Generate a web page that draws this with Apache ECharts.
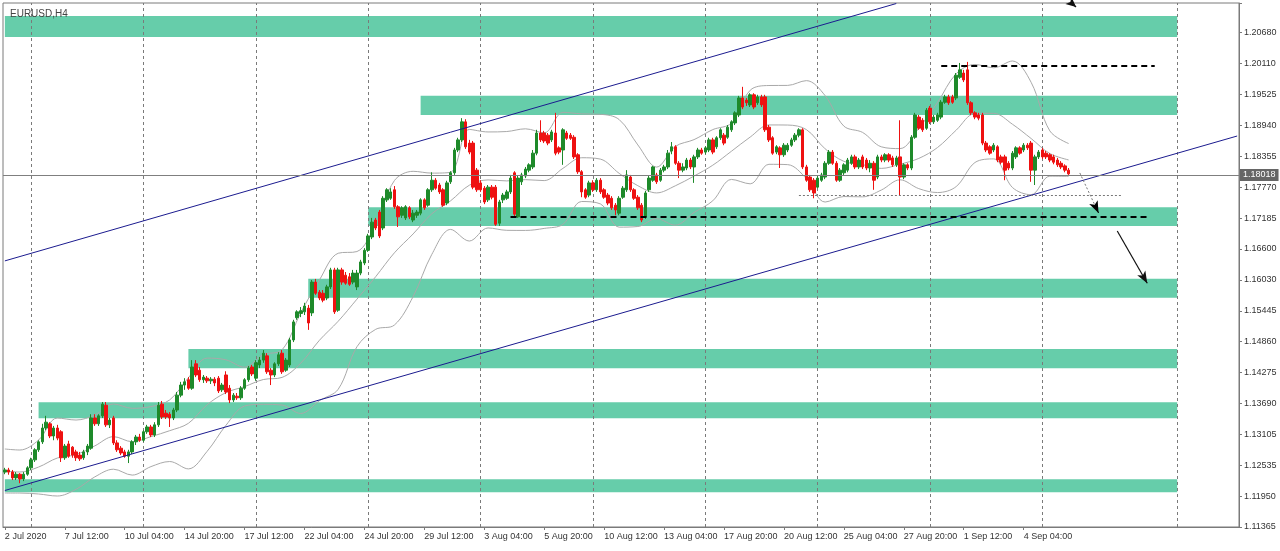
<!DOCTYPE html>
<html><head><meta charset="utf-8">
<script src="https://cdn.jsdelivr.net/npm/echarts@6/dist/echarts.min.js"></script>
<style>html,body{margin:0;padding:0;background:#fff}#c{width:1280px;height:551px}</style>
</head><body><div id="c"></div>
<script>
const chartTitle = 'EURUSD,H4';
const slotCount = 330;
const xTickStep = 16;
const xTickLabels = ['2 Jul 2020','7 Jul 12:00','10 Jul 04:00','14 Jul 20:00','17 Jul 12:00','22 Jul 04:00','24 Jul 20:00','29 Jul 12:00','3 Aug 04:00','5 Aug 20:00','10 Aug 12:00','13 Aug 04:00','17 Aug 20:00','20 Aug 12:00','25 Aug 04:00','27 Aug 20:00','1 Sep 12:00','4 Sep 04:00'];
const yTickLabels = ['1.11365','1.11950','1.12535','1.13105','1.13690','1.14275','1.14860','1.15445','1.16030','1.16600','1.17185','1.17770','1.18355','1.18940','1.19525','1.20110','1.20680'];
const yMin = 1.11365, yMax = 1.21240, yStep = 0.005821875;

const open = [1.1240,1.1244,1.1240,1.1229,1.1236,1.1227,1.1236,1.1248,1.1263,1.1282,
1.1297,1.1323,1.1331,1.1308,1.1323,1.1316,1.1267,1.1293,1.1287,1.1278,
1.1272,1.1267,1.1278,1.1285,1.1342,1.1331,1.1346,1.1366,1.1329,1.1342,
1.1295,1.1285,1.1278,1.1270,1.1278,1.1297,1.1306,1.1300,1.1316,1.1325,
1.1310,1.1329,1.1368,1.1351,1.1349,1.1342,1.1357,1.1385,1.1404,1.1414,
1.1398,1.1444,1.1432,1.1414,1.1417,1.1412,1.1415,1.1417,1.1395,1.1423,
1.1398,1.1376,1.1383,1.1380,1.1398,1.1414,1.1438,1.1417,1.1442,1.1451,
1.1459,1.1432,1.1423,1.1444,1.1464,1.1432,1.1442,1.1489,1.1531,1.1539,
1.1542,1.1549,1.1540,1.1598,1.1579,1.1577,1.1568,1.1589,1.1621,1.1545,
1.1621,1.1611,1.1608,1.1598,1.1589,1.1615,1.1634,1.1658,1.1683,1.1715,
1.1730,1.1700,1.1753,1.1756,1.1772,1.1740,1.1724,1.1719,1.1738,1.1715,
1.1724,1.1728,1.1753,1.1743,1.1772,1.1790,1.1781,1.1772,1.1747,1.1787,
1.1804,1.1847,1.1866,1.1900,1.1860,1.1860,1.1809,1.1785,1.1775,1.1753,
1.1777,1.1777,1.1709,1.1753,1.1756,1.1768,1.1804,1.1721,1.1787,1.1798,
1.1809,1.1815,1.1841,1.1879,1.1879,1.1875,1.1866,1.1879,1.1851,1.1847,
1.1879,1.1875,1.1871,1.1838,1.1806,1.1772,1.1762,1.1785,1.1772,1.1790,
1.1772,1.1762,1.1756,1.1743,1.1728,1.1758,1.1772,1.1796,1.1772,1.1758,
1.1743,1.1721,1.1772,1.1790,1.1800,1.1790,1.1809,1.1815,1.1845,1.1853,
1.1822,1.1809,1.1813,1.1828,1.1815,1.1834,1.1847,1.1843,1.1847,1.1866,
1.1853,1.1870,1.1875,1.1871,1.1885,1.1898,1.1913,1.1945,1.1941,1.1932,
1.1951,1.1936,1.1947,1.1947,1.1890,1.1870,1.1843,1.1851,1.1838,1.1847,
1.1856,1.1866,1.1875,1.1885,1.1815,1.1796,1.1790,1.1777,1.1790,1.1796,
1.1822,1.1843,1.1822,1.1790,1.1804,1.1809,1.1822,1.1834,1.1815,1.1834,
1.1828,1.1813,1.1822,1.1796,1.1834,1.1828,1.1838,1.1832,1.1819,1.1834,
1.1796,1.1819,1.1813,1.1871,1.1909,1.1903,1.1888,1.1926,1.1900,1.1903,
1.1909,1.1937,1.1947,1.1947,1.1945,1.1984,1.1992,1.1998,1.1936,1.1917,
1.1913,1.1913,1.1860,1.1853,1.1847,1.1853,1.1834,1.1834,1.1822,1.1813,
1.1834,1.1851,1.1847,1.1856,1.1860,1.1809,1.1834,1.1847,1.1841,1.1838,
1.1834,1.1828,1.1822,1.1817,1.1809];
const close = [1.1244,1.1240,1.1229,1.1236,1.1227,1.1236,1.1248,1.1263,1.1282,1.1297,
1.1323,1.1334,1.1308,1.1323,1.1304,1.1267,1.1289,1.1270,1.1272,1.1267,
1.1265,1.1278,1.1289,1.1342,1.1331,1.1346,1.1368,1.1329,1.1338,1.1295,
1.1282,1.1276,1.1270,1.1278,1.1297,1.1306,1.1300,1.1316,1.1325,1.1310,
1.1329,1.1366,1.1344,1.1344,1.1342,1.1357,1.1385,1.1404,1.1410,1.1398,
1.1438,1.1423,1.1414,1.1419,1.1412,1.1415,1.1408,1.1393,1.1404,1.1391,
1.1376,1.1385,1.1380,1.1398,1.1414,1.1436,1.1425,1.1446,1.1451,1.1464,
1.1429,1.1423,1.1444,1.1461,1.1429,1.1451,1.1489,1.1523,1.1542,1.1544,
1.1553,1.1521,1.1598,1.1577,1.1568,1.1564,1.1589,1.1621,1.1542,1.1621,
1.1598,1.1596,1.1594,1.1615,1.1615,1.1636,1.1658,1.1685,1.1711,1.1700,
1.1685,1.1756,1.1772,1.1768,1.1740,1.1721,1.1738,1.1740,1.1721,1.1728,
1.1730,1.1753,1.1738,1.1772,1.1790,1.1775,1.1768,1.1743,1.1785,1.1804,
1.1847,1.1866,1.1900,1.1853,1.1843,1.1777,1.1772,1.1772,1.1749,1.1777,
1.1758,1.1707,1.1749,1.1762,1.1768,1.1794,1.1726,1.1794,1.1800,1.1811,
1.1819,1.1841,1.1879,1.1866,1.1864,1.1860,1.1881,1.1841,1.1843,1.1885,
1.1869,1.1869,1.1834,1.1806,1.1768,1.1758,1.1785,1.1772,1.1790,1.1768,
1.1758,1.1747,1.1738,1.1734,1.1756,1.1775,1.1800,1.1772,1.1756,1.1738,
1.1715,1.1766,1.1794,1.1815,1.1787,1.1809,1.1815,1.1841,1.1853,1.1822,
1.1809,1.1815,1.1828,1.1815,1.1834,1.1847,1.1841,1.1851,1.1866,1.1843,
1.1870,1.1885,1.1860,1.1890,1.1900,1.1917,1.1945,1.1928,1.1936,1.1951,
1.1928,1.1947,1.1932,1.1885,1.1866,1.1841,1.1853,1.1838,1.1856,1.1856,
1.1866,1.1875,1.1885,1.1815,1.1790,1.1772,1.1766,1.1794,1.1800,1.1822,
1.1843,1.1822,1.1790,1.1809,1.1819,1.1828,1.1834,1.1815,1.1828,1.1815,
1.1813,1.1822,1.1790,1.1834,1.1828,1.1838,1.1828,1.1819,1.1832,1.1796,
1.1819,1.1813,1.1871,1.1913,1.1888,1.1885,1.1922,1.1900,1.1909,1.1913,
1.1937,1.1947,1.1936,1.1937,1.1988,1.1998,1.1979,1.1936,1.1917,1.1909,
1.1907,1.1860,1.1847,1.1841,1.1856,1.1828,1.1824,1.1809,1.1813,1.1841,
1.1851,1.1841,1.1856,1.1851,1.1809,1.1834,1.1843,1.1834,1.1834,1.1828,
1.1824,1.1819,1.1815,1.1809,1.1802];
const low = [1.1236,1.1235,1.1225,1.1225,1.1219,1.1223,1.1233,1.1244,1.1259,1.1278,
1.1293,1.1319,1.1304,1.1300,1.1300,1.1259,1.1263,1.1267,1.1267,1.1261,
1.1261,1.1263,1.1272,1.1282,1.1327,1.1327,1.1342,1.1325,1.1323,1.1291,
1.1278,1.1272,1.1267,1.1257,1.1274,1.1291,1.1297,1.1297,1.1312,1.1306,
1.1306,1.1325,1.1340,1.1340,1.1325,1.1338,1.1353,1.1381,1.1395,1.1395,
1.1395,1.1419,1.1410,1.1408,1.1408,1.1406,1.1402,1.1389,1.1391,1.1387,
1.1370,1.1372,1.1376,1.1376,1.1395,1.1410,1.1421,1.1412,1.1436,1.1446,
1.1425,1.1404,1.1419,1.1440,1.1425,1.1429,1.1438,1.1485,1.1527,1.1532,
1.1536,1.1508,1.1534,1.1574,1.1564,1.1560,1.1564,1.1585,1.1538,1.1542,
1.1593,1.1593,1.1591,1.1594,1.1583,1.1611,1.1630,1.1655,1.1679,1.1696,
1.1681,1.1696,1.1749,1.1753,1.1736,1.1702,1.1719,1.1715,1.1717,1.1711,
1.1719,1.1724,1.1734,1.1740,1.1768,1.1772,1.1764,1.1740,1.1743,1.1783,
1.1800,1.1843,1.1862,1.1849,1.1839,1.1773,1.1768,1.1768,1.1745,1.1749,
1.1754,1.1704,1.1704,1.1747,1.1753,1.1764,1.1721,1.1719,1.1781,1.1794,
1.1805,1.1811,1.1837,1.1862,1.1860,1.1856,1.1862,1.1837,1.1839,1.1819,
1.1866,1.1866,1.1830,1.1802,1.1758,1.1755,1.1758,1.1768,1.1768,1.1764,
1.1755,1.1743,1.1734,1.1724,1.1724,1.1755,1.1768,1.1768,1.1753,1.1734,
1.1711,1.1717,1.1768,1.1787,1.1783,1.1787,1.1805,1.1811,1.1839,1.1819,
1.1794,1.1805,1.1809,1.1811,1.1785,1.1830,1.1838,1.1839,1.1843,1.1839,
1.1849,1.1866,1.1856,1.1868,1.1881,1.1894,1.1909,1.1924,1.1930,1.1928,
1.1924,1.1932,1.1928,1.1881,1.1862,1.1838,1.1839,1.1813,1.1834,1.1843,
1.1853,1.1862,1.1871,1.1811,1.1787,1.1768,1.1756,1.1775,1.1787,1.1792,
1.1819,1.1819,1.1787,1.1787,1.1800,1.1805,1.1819,1.1811,1.1811,1.1811,
1.1809,1.1805,1.1772,1.1792,1.1824,1.1824,1.1824,1.1815,1.1815,1.1762,
1.1792,1.1809,1.1809,1.1868,1.1885,1.1881,1.1885,1.1896,1.1896,1.1900,
1.1905,1.1934,1.1932,1.1934,1.1941,1.1981,1.1975,1.1932,1.1913,1.1905,
1.1903,1.1856,1.1843,1.1838,1.1843,1.1824,1.1820,1.1790,1.1809,1.1809,
1.1830,1.1838,1.1843,1.1847,1.1787,1.1781,1.1830,1.1830,1.1830,1.1824,
1.1820,1.1815,1.1811,1.1805,1.1800];
const high = [1.1248,1.1248,1.1244,1.1240,1.1238,1.1240,1.1251,1.1267,1.1285,1.1300,
1.1331,1.1346,1.1334,1.1327,1.1329,1.1319,1.1293,1.1299,1.1289,1.1282,
1.1278,1.1282,1.1293,1.1349,1.1349,1.1349,1.1372,1.1372,1.1342,1.1346,
1.1300,1.1289,1.1282,1.1282,1.1300,1.1310,1.1312,1.1319,1.1329,1.1329,
1.1334,1.1372,1.1374,1.1357,1.1353,1.1361,1.1391,1.1410,1.1417,1.1419,
1.1451,1.1451,1.1438,1.1423,1.1421,1.1419,1.1419,1.1421,1.1408,1.1430,
1.1404,1.1389,1.1389,1.1402,1.1417,1.1440,1.1442,1.1451,1.1457,1.1470,
1.1464,1.1436,1.1447,1.1466,1.1470,1.1455,1.1493,1.1527,1.1545,1.1551,
1.1559,1.1555,1.1602,1.1604,1.1583,1.1583,1.1593,1.1625,1.1625,1.1625,
1.1625,1.1617,1.1615,1.1621,1.1621,1.1640,1.1662,1.1689,1.1719,1.1719,
1.1734,1.1760,1.1775,1.1775,1.1779,1.1743,1.1741,1.1743,1.1741,1.1734,
1.1734,1.1756,1.1756,1.1775,1.1805,1.1794,1.1785,1.1775,1.1789,1.1807,
1.1851,1.1870,1.1907,1.1905,1.1866,1.1864,1.1813,1.1790,1.1779,1.1781,
1.1781,1.1781,1.1753,1.1766,1.1772,1.1800,1.1807,1.1798,1.1804,1.1815,
1.1822,1.1847,1.1885,1.1903,1.1883,1.1879,1.1885,1.1917,1.1854,1.1888,
1.1883,1.1879,1.1875,1.1841,1.1809,1.1775,1.1789,1.1790,1.1794,1.1794,
1.1775,1.1766,1.1760,1.1747,1.1760,1.1779,1.1809,1.1800,1.1775,1.1762,
1.1747,1.1770,1.1798,1.1817,1.1804,1.1813,1.1819,1.1847,1.1862,1.1856,
1.1826,1.1822,1.1832,1.1832,1.1838,1.1851,1.1851,1.1854,1.1870,1.1870,
1.1873,1.1888,1.1879,1.1894,1.1903,1.1920,1.1949,1.1966,1.1945,1.1954,
1.1954,1.1951,1.1951,1.1951,1.1894,1.1873,1.1856,1.1854,1.1860,1.1860,
1.1870,1.1879,1.1888,1.1888,1.1819,1.1800,1.1794,1.1798,1.1804,1.1826,
1.1847,1.1847,1.1826,1.1813,1.1822,1.1832,1.1838,1.1838,1.1832,1.1838,
1.1832,1.1828,1.1826,1.1838,1.1838,1.1841,1.1841,1.1836,1.1836,1.1903,
1.1822,1.1822,1.1875,1.1917,1.1913,1.1907,1.1926,1.1930,1.1913,1.1917,
1.1941,1.1951,1.1951,1.1951,1.1992,1.2011,1.1998,1.2013,1.1939,1.1920,
1.1917,1.1917,1.1864,1.1856,1.1860,1.1856,1.1838,1.1838,1.1826,1.1845,
1.1854,1.1854,1.1860,1.1860,1.1864,1.1838,1.1847,1.1851,1.1845,1.1841,
1.1838,1.1832,1.1826,1.1820,1.1813];

// Bollinger band lines read at every 5th bar
const bbIdx = [0,4,9,14,19,24,29,34,39,44,49,54,59,64,69,74,79,84,89,94,99,104,109,114,119,124,129,134,139,144,149,154,159,164,169,174,179,184,189,194,199,204,209,214,219,224,229,234,239,244,249,254,259,264,269,274,279,284];
const bbUpper = [1.12835,1.12816,1.13004,1.13419,1.13381,1.13477,1.13683,1.13602,1.13634,1.13760,
1.14178,1.14548,1.14516,1.14376,1.14612,1.14704,1.15403,1.16023,1.16524,1.16556,
1.17073,1.17893,1.18068,1.18034,1.18051,1.18857,1.18810,1.18818,1.18869,1.18793,
1.19180,1.19150,1.19142,1.19044,1.18565,1.18147,1.18537,1.18665,1.18854,1.18978,
1.19596,1.19685,1.19687,1.19777,1.19494,1.18920,1.18801,1.18530,1.18496,1.18880,
1.19364,1.19907,1.20081,1.20020,1.20147,1.19745,1.18829,1.18592];
const bbMid = [1.12420,1.12401,1.12495,1.12665,1.12729,1.12893,1.13068,1.12972,1.13068,1.13180,
1.13319,1.13669,1.13897,1.14011,1.14144,1.14184,1.14453,1.14885,1.15243,1.15659,
1.16082,1.16532,1.16888,1.17269,1.17512,1.17806,1.17906,1.17887,1.17911,1.17893,
1.18124,1.18324,1.18298,1.18030,1.17797,1.17661,1.17795,1.17979,1.18183,1.18447,
1.18714,1.18942,1.18940,1.18854,1.18492,1.18256,1.18194,1.18123,1.18202,1.18311,
1.18516,1.18844,1.19157,1.19161,1.18956,1.18686,1.18403,1.18283];
const bbLower = [1.12005,1.12005,1.11987,1.11949,1.12075,1.12309,1.12454,1.12343,1.12503,1.12599,
1.12460,1.12791,1.13279,1.13645,1.13677,1.13664,1.13504,1.13747,1.13961,1.14762,
1.15090,1.15171,1.15708,1.16504,1.16973,1.16754,1.17001,1.16956,1.16954,1.16992,
1.17069,1.17499,1.17454,1.17016,1.17028,1.17175,1.17052,1.17293,1.17512,1.17915,
1.17832,1.18200,1.18194,1.17930,1.17489,1.17593,1.17587,1.17715,1.17908,1.17742,
1.17668,1.17781,1.18234,1.18302,1.17764,1.17627,1.17977,1.17974];

const weekGridIdx = [7,37,67,97,127,157,187,217,247,277,313];
const zoneFrom = [0,111,97,81,49,9,0];
const zoneTo = [313,313,313,313,313,313,313];
const zoneTop = [1.20995,1.19493,1.17390,1.16044,1.14719,1.13715,1.12264];
const zoneBottom = [1.20599,1.19129,1.17037,1.15686,1.14356,1.13413,1.12019];
const channelUpper = [[0,1.16380],[238,1.21230]];
const channelLower = [[0,1.12053],[329,1.18733]];
const dashedFrom = [250,135], dashedTo = [307,305], dashedPrice = [1.20058,1.17207];
const dottedLevel = {from:212,to:298,price:1.17608};
const lastPrice = 1.18018;
const arrowDotted = [[287,1.18037],[292,1.17283]];
const arrowDottedHead = [[291,1.17433],[292,1.17283]];
const arrowSolid = [[297,1.16944],[305,1.15958]];
const arrowTop = [[285,1.21225],[286,1.21165]];

const FONT = 'Liberation Sans, Arial, sans-serif';
const candles = open.map((o,i)=>[o, close[i], low[i], high[i]]);
const cats = Array.from({length: slotCount}, (_, i) => String(i));
const lastLabelIdx = (xTickLabels.length-1)*xTickStep;
const showX = (i) => i % xTickStep === 0 && i <= lastLabelIdx;
const bbSeries = (vals) => ({type: 'line', data: bbIdx.map((x,k)=>[x, vals[k]]), z: 2, symbol: 'none', silent: true, smooth: 0.35,
  lineStyle: {color: '#a9a9a9', width: 1}});

const chart = echarts.init(document.getElementById('c'), null, {renderer:'canvas'});
chart.setOption({
  animation: false,
  backgroundColor: '#ffffff',
  title: {text: chartTitle, left: 5, top: 4, textStyle: {fontSize: 10, fontWeight: 'normal', color: '#444', fontFamily: FONT}},
  grid: {left: 3, right: 41, top: 3, bottom: 24, show: true, borderColor: '#7a7a7a', borderWidth: 1, backgroundColor: 'transparent'},
  xAxis: {
    type: 'category', data: cats, boundaryGap: true,
    axisLine: {show: true, lineStyle: {color: '#7a7a7a'}},
    axisTick: {show: true, alignWithLabel: true, length: 3, interval: (i)=>showX(i), lineStyle: {color: '#7a7a7a'}},
    axisLabel: {interval: (i)=>showX(i), align: 'left', margin: 5, fontSize: 9, color: '#333', fontFamily: FONT,
      formatter: (v) => { const i = Number(v); return showX(i) ? xTickLabels[i / xTickStep] : ''; }},
    splitLine: {show: false}
  },
  yAxis: {
    type: 'value', position: 'right', scale: true, min: yMin, max: yMax, interval: yStep,
    axisLine: {show: true, lineStyle: {color: '#7a7a7a'}},
    axisTick: {show: true, length: 3, lineStyle: {color: '#7a7a7a'}},
    splitLine: {show: false},
    axisLabel: {margin: 5, fontSize: 9, color: '#333', fontFamily: FONT,
      formatter: (v) => { let best = '', bd = 1; yTickLabels.forEach(t => { const d = Math.abs(parseFloat(t) - v); if (d < bd) { bd = d; best = t; } }); return bd < 0.001 ? best : ''; }}
  },
  series: [
    {type: 'line', name: 'zones', data: [], z: 1, silent: true,
      markArea: {silent: true, z: 1, itemStyle: {color: '#66CDAA', opacity: 1},
        data: zoneTop.map((t, k) => [{xAxis: zoneFrom[k], yAxis: t}, {xAxis: zoneTo[k], yAxis: zoneBottom[k]}])}},
    {type: 'line', name: 'grid', data: [], z: 2, silent: true,
      markLine: {silent: true, z: 2, symbol: ['none','none'], label: {show: false},
        lineStyle: {color: '#7a7a7a', type: [3,3], width: 1},
        data: weekGridIdx.map(i => ({xAxis: i}))}},
    bbSeries(bbUpper), bbSeries(bbMid), bbSeries(bbLower),
    {type: 'candlestick', name: 'EURUSD', data: candles, z: 3, barWidth: 3,
      itemStyle: {color: '#1E8A2A', color0: '#EE1111', borderColor: '#1E8A2A', borderColor0: '#EE1111', borderWidth: 1}},
    {type: 'line', name: 'upper', data: channelUpper, z: 4, symbol: 'none', silent: true,
      lineStyle: {color: '#1b1b8f', width: 1}},
    {type: 'line', name: 'lower', data: channelLower, z: 4, symbol: 'none', silent: true,
      lineStyle: {color: '#1b1b8f', width: 1}},
    {type: 'line', name: 'annot', data: [], z: 5, silent: true,
      markLine: {silent: true, z: 5, symbol: ['none','none'], label: {show: false},
        data: [
          {yAxis: lastPrice, lineStyle: {color: '#7f7f7f', type: 'solid', width: 1},
            label: {show: true, position: 'end', distance: 1, formatter: () => lastPrice.toFixed(5), color: '#fff', backgroundColor: '#666', padding: [2,3,1,3], fontSize: 9, fontFamily: FONT}},
          ...dashedPrice.map((p, k) => [{coord: [dashedFrom[k], p]}, {coord: [dashedTo[k], p], lineStyle: {color: '#000', type: [6,4], width: 2}}]),
          [{coord: [dottedLevel.from, dottedLevel.price]}, {coord: [dottedLevel.to, dottedLevel.price], lineStyle: {color: '#777', type: [2,2], width: 1}}],
          [{coord: arrowDotted[0]}, {coord: arrowDotted[1], lineStyle: {color: '#777', type: [2,2], width: 1}}],
          [{coord: arrowDottedHead[0], symbol: 'none'}, {coord: arrowDottedHead[1], symbol: 'arrow', symbolSize: [7, 12], lineStyle: {color: '#000', type: 'solid', width: 1}}],
          [{coord: arrowSolid[0], symbol: 'none'}, {coord: arrowSolid[1], symbol: 'arrow', symbolSize: [7, 12], lineStyle: {color: '#111', type: 'solid', width: 1.2}}],
          [{coord: arrowTop[0], symbol: 'none'}, {coord: arrowTop[1], symbol: 'arrow', symbolSize: [7, 10], lineStyle: {color: '#111', type: 'solid', width: 1.2}}]
        ]}}
  ]
});
</script></body></html>
